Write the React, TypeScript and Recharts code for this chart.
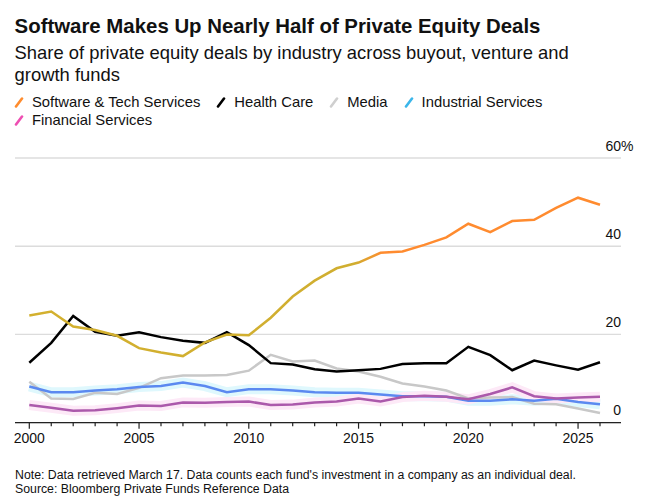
import React from 'react';
import { LineChart, Line, XAxis, YAxis, CartesianGrid } from 'recharts';

const years = [
  2000, 2001, 2002, 2003, 2004, 2005, 2006, 2007, 2008, 2009, 2010, 2011, 2012, 2013,
  2014, 2015, 2016, 2017, 2018, 2019, 2020, 2021, 2022, 2023, 2024, 2025, 2026,
];
const software = [
  24.3, 25.2, 21.8, 21.0, 19.7, 16.9, 15.9, 15.1, 18.2, 20.0, 19.8, 23.8, 28.6, 32.2,
  35.0, 36.3, 38.5, 38.8, 40.3, 42.0, 45.1, 43.2, 45.7, 46.0, 48.7, 51.0, 49.4,
];
const healthCare = [
  13.6, 18.1, 24.2, 20.6, 19.7, 20.5, 19.4, 18.6, 18.1, 20.5, 17.6, 13.5, 13.2, 12.1,
  11.6, 11.9, 12.2, 13.3, 13.5, 13.5, 17.2, 15.3, 11.9, 14.1, 13.0, 12.0, 13.7,
];
const media = [
  9.3, 5.5, 5.4, 6.8, 6.5, 7.9, 10.1, 10.7, 10.7, 10.8, 11.8, 15.4, 13.9, 14.1,
  12.3, 11.6, 10.4, 8.9, 8.2, 7.3, 5.5, 5.7, 5.8, 4.3, 4.2, 3.2, 2.2,
];
const industrial = [
  8.2, 6.9, 6.9, 7.3, 7.6, 8.1, 8.3, 9.1, 8.3, 6.9, 7.6, 7.6, 7.3, 6.9,
  6.8, 6.8, 6.4, 6.0, 6.0, 5.9, 5.0, 5.0, 5.3, 5.0, 5.4, 4.7, 4.2,
];
const financial = [
  4.0, 3.4, 2.7, 2.8, 3.3, 3.9, 3.8, 4.6, 4.5, 4.7, 4.8, 4.0, 4.1, 4.6,
  4.8, 5.5, 4.8, 5.8, 6.1, 5.9, 5.3, 6.5, 8.0, 6.0, 5.5, 5.7, 5.9,
];
const yTicks = [0, 20, 40, 60];

const legendItems = [
  { label: 'Software & Tech Services', color: '#ff8c2e' },
  { label: 'Health Care', color: '#000000' },
  { label: 'Media', color: '#cfcfcf' },
  { label: 'Industrial Services', color: '#3bb6ea' },
  { label: 'Financial Services', color: '#ee4fb2' },
];

const data = years.map((year, i) => ({
  year,
  software: software[i],
  healthCare: healthCare[i],
  media: media[i],
  industrial: industrial[i],
  financial: financial[i],
}));

const FONT = '"Liberation Sans", Arial, Helvetica, sans-serif';
const PLOT_RIGHT = 621;

const XTick = ({ x, y, payload }: any) => {
  const major = payload.value % 5 === 0;
  return (
    <g>
      <line x1={x} x2={x} y1={y} y2={y + (major ? 6 : 3.5)} stroke="#222" strokeWidth={1.2} />
      {major && (
        <text x={x} y={y + 20.6} textAnchor="middle" fontSize={14} fill="#111" fontFamily={FONT}>
          {payload.value}
        </text>
      )}
    </g>
  );
};

// labels sit just above each gridline, right-aligned to the gridline end
const YTick = ({ y, payload }: any) => (
  <g>
    <text x={PLOT_RIGHT} y={y - 7.5} textAnchor="end" fontSize={14} fill="#111" fontFamily={FONT}>
      {payload.value}
    </text>
    {payload.value === 60 && (
      <text x={PLOT_RIGHT} y={y - 7.5} textAnchor="start" fontSize={14} fill="#111" fontFamily={FONT}>
        %
      </text>
    )}
  </g>
);

const Slash = ({ color }: { color: string }) => (
  <svg width={10} height={12} style={{ marginRight: 8, flexShrink: 0 }}>
    <line x1={2} y1={10.5} x2={8} y2={2.5} stroke={color} strokeWidth={2.6} strokeLinecap="round" />
  </svg>
);

export default function App() {
  return (
    <div
      style={{
        position: 'absolute',
        left: 0,
        top: 0,
        width: 651,
        height: 503,
        background: '#fff',
        fontFamily: FONT,
        color: '#111',
        overflow: 'hidden',
      }}
    >
      <div style={{ position: 'absolute', left: 0, top: 0 }}>
        <LineChart
          width={651}
          height={503}
          data={data}
          margin={{ top: 158, right: 0, left: 15, bottom: 50.3 }}
        >
          <defs>
            <linearGradient id="swGrad" x1="0" y1="0" x2="1" y2="0">
              <stop offset="0" stopColor="#d3b02e" />
              <stop offset="0.57" stopColor="#d0ae30" />
              <stop offset="0.62" stopColor="#ff8b2f" />
              <stop offset="1" stopColor="#ff8b2f" />
            </linearGradient>
          </defs>
          <CartesianGrid vertical={false} stroke="#dcdcdc" strokeWidth={1.3} />
          <XAxis
            dataKey="year"
            type="number"
            domain={[2000, 2026]}
            ticks={years}
            interval={0}
            padding={{ left: 14.3, right: 21 }}
            height={30}
            tickSize={0}
            tickMargin={0}
            tickLine={false}
            axisLine={{ stroke: '#222', strokeWidth: 1.3 }}
            tick={<XTick />}
          />
          <YAxis
            orientation="right"
            width={30}
            domain={[0, 60]}
            ticks={yTicks}
            interval={0}
            tickSize={0}
            tickMargin={0}
            axisLine={false}
            tickLine={false}
            tick={<YTick />}
          />
          <Line dataKey="industrial" stroke="#dff8fd" strokeWidth={10} dot={false} isAnimationActive={false} />
          <Line dataKey="financial" stroke="#fde9f7" strokeWidth={10} dot={false} isAnimationActive={false} />
          <Line dataKey="media" stroke="#c8c8c8" strokeWidth={2.5} dot={false} isAnimationActive={false} />
          <Line dataKey="industrial" stroke="#5b89f0" strokeWidth={2.5} dot={false} isAnimationActive={false} />
          <Line dataKey="financial" stroke="#ab59ab" strokeWidth={2.5} dot={false} isAnimationActive={false} />
          <Line dataKey="healthCare" stroke="#000" strokeWidth={2.5} dot={false} isAnimationActive={false} />
          <Line dataKey="software" stroke="url(#swGrad)" strokeWidth={2.5} dot={false} isAnimationActive={false} />
        </LineChart>
      </div>

      <div
        style={{
          position: 'absolute',
          left: 14.6,
          top: 13.6,
          fontSize: 20.4,
          lineHeight: '24px',
          fontWeight: 700,
          whiteSpace: 'nowrap',
        }}
      >
        Software Makes Up Nearly Half of Private Equity Deals
      </div>
      <div
        style={{
          position: 'absolute',
          left: 14.6,
          top: 41.6,
          fontSize: 18.4,
          lineHeight: '22.7px',
          whiteSpace: 'nowrap',
        }}
      >
        Share of private equity deals by industry across buyout, venture and
        <br />
        growth funds
      </div>
      <div
        style={{
          position: 'absolute',
          left: 14,
          top: 93.2,
          width: 600,
          display: 'flex',
          flexWrap: 'wrap',
          fontSize: 14.8,
          lineHeight: '18.2px',
        }}
      >
        {legendItems.map((it) => (
          <div key={it.label} style={{ display: 'flex', alignItems: 'center', marginRight: 16 }}>
            <Slash color={it.color} />
            <span style={{ whiteSpace: 'nowrap' }}>{it.label}</span>
          </div>
        ))}
      </div>
      <div
        style={{
          position: 'absolute',
          left: 15,
          top: 468,
          fontSize: 12.3,
          lineHeight: '14px',
          whiteSpace: 'nowrap',
        }}
      >
        Note: Data retrieved March 17. Data counts each fund's investment in a company as an individual deal.
        <br />
        Source: Bloomberg Private Funds Reference Data
      </div>
    </div>
  );
}
